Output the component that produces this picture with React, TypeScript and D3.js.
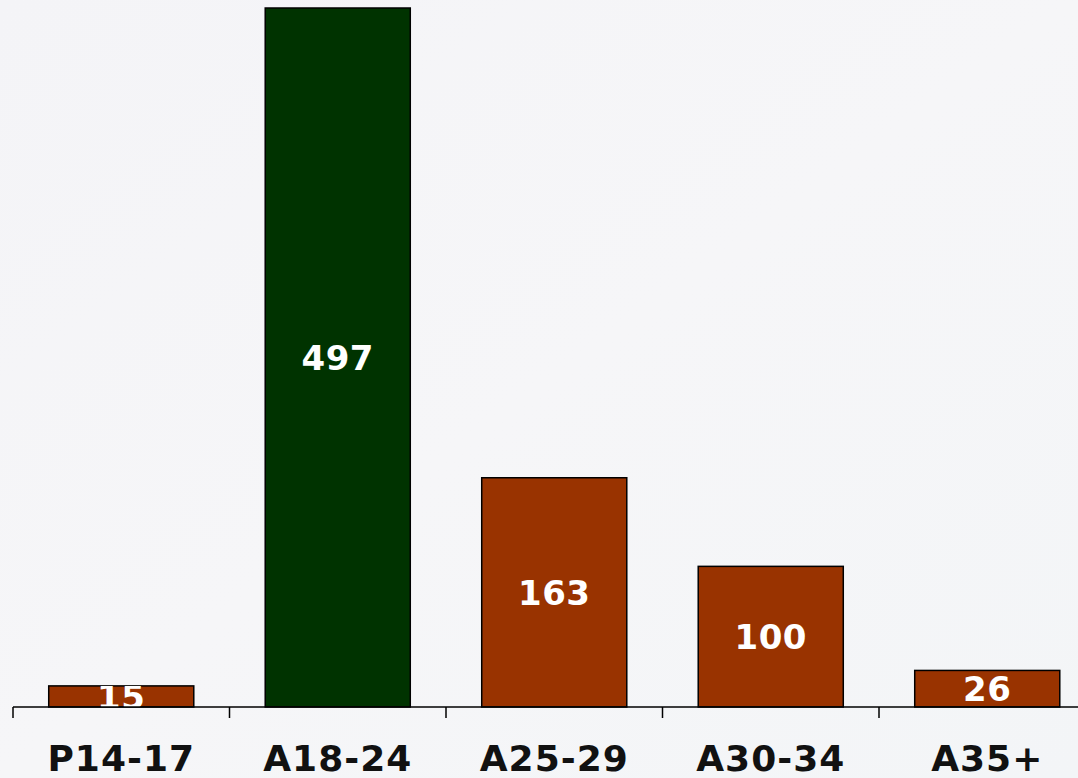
import React from "react";
import * as d3 from "d3";

const categories = ["P14-17", "A18-24", "A25-29", "A30-34", "A35+"];
const values = [15, 497, 163, 100, 26];
const barColors = ["#993300", "#003300", "#993300", "#993300", "#993300"];

const W = 1078;
const H = 778;
const baseY = 707;

export default function App() {
  const x = d3
    .scaleBand<string>()
    .domain(categories)
    .range([13, 1095.5])
    .paddingInner(0.33)
    .paddingOuter(0.165);
  const y = d3.scaleLinear().domain([0, 497]).range([baseY, 8]);
  const step = x.step();
  const tickXs = categories.map((_, i) => 13 + i * step);
  const font = "'DejaVu Sans', Verdana, sans-serif";

  return (
    <div style={{ position: "fixed", left: 0, top: 0, width: W, height: H }}>
      <svg width={W} height={H} style={{ display: "block" }}>
        <defs>
          <linearGradient id="bg" x1="0" y1="0" x2="1" y2="1">
            <stop offset="0" stopColor="#f4f4f7" />
            <stop offset="0.5" stopColor="#f6f6f8" />
            <stop offset="1" stopColor="#f3f5f7" />
          </linearGradient>
          {categories.map((c, i) => (
            <clipPath id={`clip${i}`} key={c}>
              <rect
                x={x(c)!}
                y={y(values[i])}
                width={x.bandwidth()}
                height={baseY - y(values[i])}
              />
            </clipPath>
          ))}
        </defs>
        <rect x={0} y={0} width={W} height={H} fill="url(#bg)" />
        {categories.map((c, i) => (
          <g key={c}>
            <rect
              x={x(c)!}
              y={y(values[i])}
              width={x.bandwidth()}
              height={baseY - y(values[i])}
              fill={barColors[i]}
              stroke="#000"
              strokeWidth={1.5}
            />
            <text
              clipPath={`url(#clip${i})`}
              x={x(c)! + x.bandwidth() / 2}
              y={(y(values[i]) + baseY) / 2}
              dy="0.36em"
              textAnchor="middle"
              fill="#fff"
              fontFamily={font}
              fontWeight="bold"
              fontSize={34}
              letterSpacing={0.5}
            >
              {values[i]}
            </text>
          </g>
        ))}
        <line x1={13} x2={W} y1={baseY} y2={baseY} stroke="#000" strokeWidth={1.5} />
        {tickXs.map((tx, i) => (
          <line key={i} x1={tx} x2={tx} y1={baseY} y2={baseY + 11} stroke="#000" strokeWidth={1.5} />
        ))}
        {categories.map((c) => (
          <text
            key={c}
            x={x(c)! + x.bandwidth() / 2}
            y={771}
            textAnchor="middle"
            fill="#111"
            fontFamily={font}
            fontWeight="bold"
            fontSize={36}
            letterSpacing={1}
          >
            {c}
          </text>
        ))}
      </svg>
    </div>
  );
}
